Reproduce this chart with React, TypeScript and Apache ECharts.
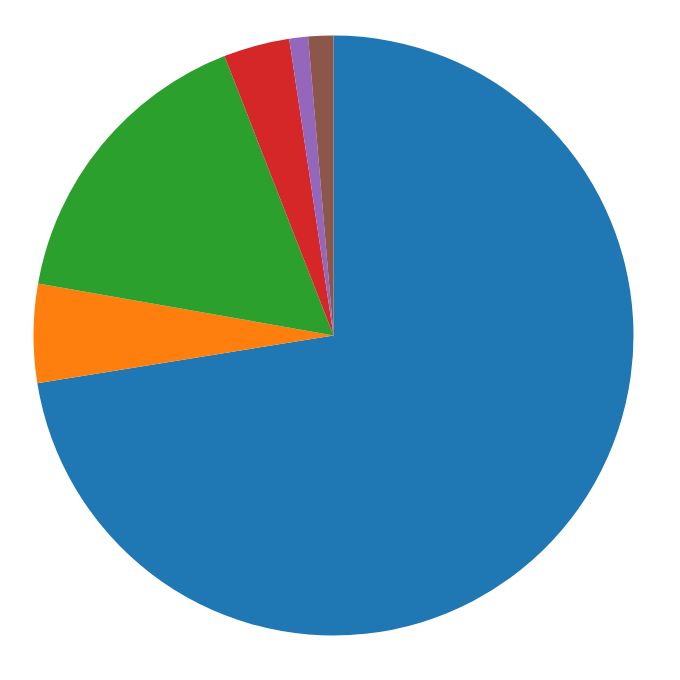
import React, { useEffect, useRef } from "react";
import * as echarts from "echarts";

const categories = ["A", "B", "C", "D", "E", "F"];
const values = [72.45, 5.32, 16.3, 3.56, 1.01, 1.35];
const colors = ["#1f77b4", "#ff7f0e", "#2ca02c", "#d62728", "#9467bd", "#8c564b"];

export default function App() {
  const ref = useRef<HTMLDivElement>(null);
  useEffect(() => {
    if (!ref.current) return;
    const chart = echarts.init(ref.current, null, { renderer: "svg" });
    chart.setOption({
      animation: false,
      backgroundColor: "#ffffff",
      series: [
        {
          type: "pie",
          center: [333.5, 335.5],
          radius: 300,
          startAngle: 90,
          clockwise: true,
          label: { show: false },
          labelLine: { show: false },
          emphasis: { disabled: true },
          itemStyle: { borderWidth: 0 },
          data: categories.map((name, i) => ({
            name,
            value: values[i],
            itemStyle: { color: colors[i] },
          })),
        },
      ],
    });
    return () => chart.dispose();
  }, []);
  return (
    <div
      ref={ref}
      style={{ position: "fixed", left: 0, top: 0, width: 680, height: 680 }}
    />
  );
}
